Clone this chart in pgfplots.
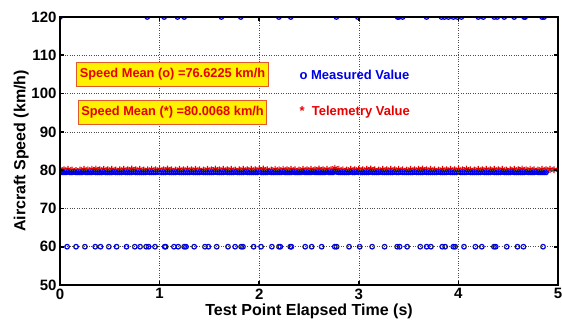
\documentclass[border=0pt]{standalone}
\usepackage{pgfplots}
\pgfplotsset{compat=1.18}
\usepackage{fontspec}
\setmainfont{Liberation Sans}
\definecolor{mblue}{RGB}{0,0,230}
\definecolor{mred}{RGB}{230,0,0}
\definecolor{boxedge}{RGB}{225,90,40}
\begin{document}
\begin{tikzpicture}
\begin{axis}[
  set layers=axis on top,
  scale only axis, width=498pt, height=268pt,
  xmin=0, xmax=5, ymin=50, ymax=120,
  xtick={0,1,2,3,4,5}, ytick={50,60,70,80,90,100,110,120},
  grid=major,
  major grid style={dotted, black!70, line width=0.6pt},
  axis line style={line width=1.6pt},
  tick style={line width=1.6pt, black},
  major tick length=4pt, tick align=inside,
  ticklabel style={font=\bfseries\fontsize{15}{15}\selectfont},
  /pgf/number format/assume math mode=true,
  xlabel={Test Point Elapsed Time (s)},
  ylabel={Aircraft Speed (km/h)},
  label style={font=\bfseries\fontsize{16}{16}\selectfont},
  xlabel style={yshift=2pt},
  ylabel style={yshift=-4pt},
  axis on top, clip marker paths=true,
]
% telemetry values
\addplot[only marks, mark=asterisk, mark size=3.4pt, mred, line width=1.2pt] coordinates {
(0.00,80.2)(0.04,80.1)(0.08,80.2)(0.12,80.0)(0.16,79.9)(0.20,80.0)(0.24,80.2)(0.28,80.1)
(0.32,80.2)(0.36,80.3)(0.40,80.1)(0.44,80.2)(0.48,80.1)(0.52,80.2)(0.56,80.0)(0.60,80.1)
(0.64,80.2)(0.68,80.1)(0.72,80.3)(0.76,80.1)(0.80,80.2)(0.84,80.0)(0.88,80.1)(0.92,80.2)
(0.96,80.1)(1.00,80.2)(1.04,80.1)(1.08,80.3)(1.12,80.1)(1.16,80.0)(1.20,80.2)(1.24,80.1)
(1.28,80.2)(1.32,80.1)(1.36,80.2)(1.40,80.1)(1.44,80.0)(1.48,80.2)(1.52,80.1)(1.56,80.3)
(1.60,80.1)(1.64,80.2)(1.68,80.1)(1.72,80.2)(1.76,80.0)(1.80,80.1)(1.84,80.2)(1.88,80.1)
(1.92,80.2)(1.96,80.1)(2.00,80.2)(2.04,80.3)(2.08,80.1)(2.12,80.0)(2.16,80.2)(2.20,80.1)
(2.24,80.2)(2.28,80.1)(2.32,80.2)(2.36,80.1)(2.40,80.0)(2.44,80.2)(2.48,80.1)(2.52,80.2)
(2.56,80.1)(2.60,80.3)(2.64,80.1)(2.68,80.2)(2.72,80.1)(2.76,80.5)(2.80,80.2)(2.84,80.1)
(2.88,80.0)(2.92,80.2)(2.96,80.1)(3.00,80.2)(3.04,80.1)(3.08,80.2)(3.12,80.3)(3.16,80.1)
(3.20,80.0)(3.24,80.2)(3.28,80.1)(3.32,80.2)(3.36,80.1)(3.40,80.2)(3.44,80.1)(3.48,80.0)
(3.52,80.2)(3.56,80.1)(3.60,80.2)(3.64,80.3)(3.68,80.1)(3.72,80.2)(3.76,80.1)(3.80,80.0)
(3.84,80.2)(3.88,80.1)(3.92,80.2)(3.96,80.1)(4.00,80.2)(4.04,80.1)(4.08,80.3)(4.12,80.1)
(4.16,80.0)(4.20,80.2)(4.24,80.1)(4.28,80.2)(4.32,80.1)(4.36,80.2)(4.40,80.1)(4.44,80.2)
(4.48,80.0)(4.52,80.1)(4.56,80.2)(4.60,80.1)(4.64,80.3)(4.68,80.1)(4.72,80.2)(4.76,80.1)
(4.80,80.0)(4.84,80.2)(4.88,80.1)(4.92,80.2)(4.96,80.1)
};
% measured values (main band)
\addplot[only marks, mark=o, mark size=2.1pt, mblue, line width=1.4pt] coordinates {
(0.00,79.4)(0.04,79.4)(0.08,79.5)(0.12,79.4)(0.16,79.4)(0.20,79.4)(0.24,79.5)(0.28,79.4)
(0.32,79.4)(0.36,79.4)(0.40,79.4)(0.44,79.5)(0.48,79.4)(0.52,79.4)(0.56,79.4)(0.60,79.4)
(0.64,79.5)(0.68,79.4)(0.72,79.4)(0.76,79.4)(0.80,79.4)(0.84,79.4)(0.88,79.5)(0.92,79.4)
(0.96,79.4)(1.00,79.4)(1.04,79.4)(1.08,79.5)(1.12,79.4)(1.16,79.4)(1.20,79.4)(1.24,79.4)
(1.28,79.4)(1.32,79.5)(1.36,79.4)(1.40,79.4)(1.44,79.4)(1.48,79.4)(1.52,79.4)(1.56,79.5)
(1.60,79.4)(1.64,79.4)(1.68,79.4)(1.72,79.4)(1.76,79.5)(1.80,79.4)(1.84,79.4)(1.88,79.4)
(1.92,79.4)(1.96,79.4)(2.00,79.5)(2.04,79.4)(2.08,79.4)(2.12,79.4)(2.16,79.4)(2.20,79.4)
(2.24,79.5)(2.28,79.4)(2.32,79.4)(2.36,79.4)(2.40,79.4)(2.44,79.5)(2.48,79.4)(2.52,79.4)
(2.56,79.4)(2.60,79.4)(2.64,79.4)(2.68,79.5)(2.72,79.4)(2.76,79.6)(2.80,79.4)(2.84,79.4)
(2.88,79.4)(2.92,79.5)(2.96,79.4)(3.00,79.4)(3.04,79.4)(3.08,79.4)(3.12,79.5)(3.16,79.4)
(3.20,79.4)(3.24,79.4)(3.28,79.4)(3.32,79.4)(3.36,79.5)(3.40,79.4)(3.44,79.4)(3.48,79.4)
(3.52,79.4)(3.56,79.5)(3.60,79.4)(3.64,79.4)(3.68,79.4)(3.72,79.4)(3.76,79.4)(3.80,79.5)
(3.84,79.4)(3.88,79.4)(3.92,79.4)(3.96,79.4)(4.00,79.5)(4.04,79.4)(4.08,79.4)(4.12,79.4)
(4.16,79.4)(4.20,79.4)(4.24,79.5)(4.28,79.4)(4.32,79.4)(4.36,79.4)(4.40,79.4)(4.44,79.5)
(4.48,79.4)(4.52,79.4)(4.56,79.4)(4.60,79.4)(4.64,79.4)(4.68,79.5)(4.72,79.4)(4.76,79.4)
(4.80,79.4)(4.84,79.4)(4.88,79.4)
(0.02,79.4)(0.06,79.4)(0.10,79.4)(0.14,79.5)(0.18,79.4)(0.22,79.4)(0.26,79.4)(0.30,79.4)
(0.34,79.5)(0.38,79.4)(0.42,79.4)(0.46,79.4)(0.50,79.4)(0.54,79.5)(0.58,79.4)(0.62,79.4)
(0.66,79.4)(0.70,79.4)(0.74,79.5)(0.78,79.4)(0.82,79.4)(0.86,79.4)(0.90,79.4)(0.94,79.4)
(0.98,79.5)(1.02,79.4)(1.06,79.4)(1.10,79.4)(1.14,79.4)(1.18,79.5)(1.22,79.4)(1.26,79.4)
(1.30,79.4)(1.34,79.4)(1.38,79.4)(1.42,79.5)(1.46,79.4)(1.50,79.4)(1.54,79.4)(1.58,79.4)
(1.62,79.4)(1.66,79.5)(1.70,79.4)(1.74,79.4)(1.78,79.4)(1.82,79.4)(1.86,79.5)(1.90,79.4)
(1.94,79.4)(1.98,79.4)(2.02,79.4)(2.06,79.4)(2.10,79.5)(2.14,79.4)(2.18,79.4)(2.22,79.4)
(2.26,79.4)(2.30,79.4)(2.34,79.5)(2.38,79.4)(2.42,79.4)(2.46,79.4)(2.50,79.4)(2.54,79.5)
(2.58,79.4)(2.62,79.4)(2.66,79.4)(2.70,79.4)(2.74,79.4)(2.78,79.5)(2.82,79.4)(2.86,79.4)
(2.90,79.4)(2.94,79.4)(2.98,79.5)(3.02,79.4)(3.06,79.4)(3.10,79.4)(3.14,79.4)(3.18,79.4)
(3.22,79.5)(3.26,79.4)(3.30,79.4)(3.34,79.4)(3.38,79.4)(3.42,79.5)(3.46,79.4)(3.50,79.4)
(3.54,79.4)(3.58,79.4)(3.62,79.4)(3.66,79.5)(3.70,79.4)(3.74,79.4)(3.78,79.4)(3.82,79.4)
(3.86,79.4)(3.90,79.5)(3.94,79.4)(3.98,79.4)(4.02,79.4)(4.06,79.4)(4.10,79.5)(4.14,79.4)
(4.18,79.4)(4.22,79.4)(4.26,79.4)(4.30,79.4)(4.34,79.5)(4.38,79.4)(4.42,79.4)(4.46,79.4)
(4.50,79.4)(4.54,79.5)(4.58,79.4)(4.62,79.4)(4.66,79.4)(4.70,79.4)(4.74,79.4)(4.78,79.5)
(4.82,79.4)(4.86,79.4)
};
% measured values (low outliers)
\addplot[only marks, mark=o, mark size=2.3pt, mblue, line width=1.2pt] coordinates {
(0.071,60)(0.161,60)(0.250,60)(0.354,60)(0.407,60)(0.490,60)(0.568,60)(0.668,60)
(0.751,60)(0.804,60)(0.865,60)(0.890,60)(0.954,60)(1.051,60)(1.061,60)(1.144,60)
(1.187,60)(1.247,60)(1.265,60)(1.347,60)(1.455,60)(1.490,60)(1.573,60)(1.687,60)
(1.758,60)(1.819,60)(1.837,60)(1.944,60)(2.019,60)(2.127,60)(2.198,60)(2.212,60)
(2.312,60)(2.323,60)(2.462,60)(2.527,60)(2.627,60)(2.759,60)(2.777,60)(2.902,60)
(3.009,60)(3.134,60)(3.259,60)(3.385,60)(3.410,60)(3.485,60)(3.617,60)(3.681,60)
(3.724,60)(3.838,60)(3.867,60)(3.949,60)(3.967,60)(4.056,60)(4.171,60)(4.235,60)
(4.357,60)(4.374,60)(4.485,60)(4.593,60)(4.653,60)(4.850,60)
};
% measured values (high outliers)
\addplot[only marks, mark=o, mark size=2.3pt, mblue, line width=1.2pt] coordinates {
(0.000,120)(0.876,120)(1.046,120)(1.180,120)(1.247,120)(1.620,120)(1.815,120)(2.197,120)
(2.317,120)(2.775,120)(2.990,120)(3.390,120)(3.400,120)(3.440,120)(3.680,120)(3.830,120)
(3.860,120)(3.900,120)(3.950,120)(3.990,120)(4.030,120)(4.200,120)(4.250,120)(4.360,120)
(4.390,120)(4.460,120)(4.560,120)(4.660,120)(4.670,120)(4.840,120)(4.860,120)
};
\begin{pgfonlayer}{axis foreground}
\node[fill=yellow, draw=boxedge, line width=0.8pt, inner xsep=3pt, minimum height=24pt, text=mred,
  font=\bfseries\fontsize{12.8}{13}\selectfont] at (axis cs:1.13,105) {Speed Mean (o) =76.6225 km/h};
\node[fill=yellow, draw=boxedge, line width=0.8pt, inner xsep=3pt, minimum height=24pt, text=mred,
  font=\bfseries\fontsize{12.8}{13}\selectfont] at (axis cs:1.13,95.1) {Speed Mean (*) =80.0068 km/h};
\node[anchor=west, text=mblue, font=\bfseries\fontsize{13}{13}\selectfont] at (axis cs:2.37,105) {o Measured Value};
\node[anchor=west, text=mred, font=\bfseries\fontsize{13}{13}\selectfont] at (axis cs:2.37,95.2) {*\ \ Telemetry Value};
\end{pgfonlayer}
\end{axis}
\pgfresetboundingbox
\path (-60pt,-35pt) rectangle (502pt,285pt);
\end{tikzpicture}
\end{document}
